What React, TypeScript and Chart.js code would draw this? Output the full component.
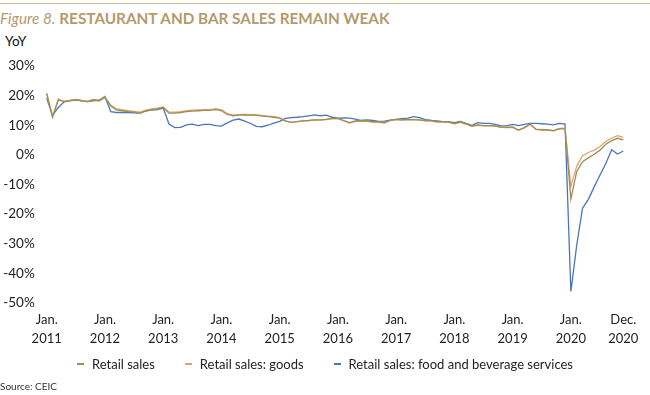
import React, { useEffect, useRef } from 'react';
import { Chart, registerables } from 'chart.js';

Chart.register(...registerables);

// Monthly observations (Mar–Dec each year; Jan/Feb not reported separately)
const years = [2011, 2012, 2013, 2014, 2015, 2016, 2017, 2018, 2019, 2020];
const months = ['Mar', 'Apr', 'May', 'Jun', 'Jul', 'Aug', 'Sep', 'Oct', 'Nov', 'Dec'];
const categories = years.flatMap((y) => months.map((m) => `${m} ${y}`));

const seriesNames = ['Retail sales', 'Retail sales: goods', 'Retail sales: food and beverage services'];
const seriesColors = ['#9d8d55', '#dba56c', '#4a76b8'];

const retailSales = [
  20.8, 12.7, 18.6, 18.0, 18.2, 18.6, 18.2, 18.0, 18.6, 18.2,
  19.4, 16.5, 15.2, 14.9, 14.6, 14.4, 14.1, 14.8, 15.2, 15.5,
  16.0, 14.1, 14.1, 14.3, 14.6, 14.8, 14.9, 15.0, 15.0, 15.3,
  14.9, 13.7, 13.2, 13.4, 13.5, 13.4, 13.3, 13.1, 12.9, 12.7,
  12.4, 11.4, 11.0, 11.2, 11.5, 11.6, 11.8, 11.8, 12.0, 12.3,
  12.3, 11.6, 10.9, 11.5, 11.6, 11.5, 11.2, 11.2, 10.9, 11.7,
  12.0, 11.8, 12.0, 11.9, 11.8, 11.6, 11.6, 11.2, 11.2, 11.1,
  10.6, 11.1, 10.5, 9.7, 10.1, 9.9, 9.9, 9.8, 9.4, 9.3,
  9.4, 8.4, 9.2, 10.4, 8.6, 8.4, 8.4, 8.1, 8.8, 8.8,
  -14.9, -5.6, -2.3, -1.0, 0.2, 1.6, 3.6, 4.8, 5.6, 5.1,
];

const retailGoods = [
  20.6, 12.9, 18.8, 18.1, 18.3, 18.7, 18.4, 18.1, 18.7, 18.4,
  19.5, 16.8, 15.5, 15.2, 14.9, 14.7, 14.4, 15.1, 15.5, 15.8,
  16.2, 14.4, 14.4, 14.6, 14.9, 15.1, 15.2, 15.3, 15.3, 15.6,
  15.2, 13.9, 13.4, 13.6, 13.7, 13.6, 13.5, 13.3, 13.1, 12.9,
  12.5, 11.5, 11.0, 11.2, 11.5, 11.6, 11.8, 11.7, 11.9, 12.2,
  12.2, 11.5, 10.7, 11.3, 11.4, 11.3, 11.0, 11.0, 10.7, 11.6,
  11.9, 11.7, 11.9, 11.8, 11.7, 11.5, 11.5, 11.1, 11.1, 11.0,
  10.5, 11.0, 10.4, 9.6, 10.0, 9.8, 9.8, 9.7, 9.3, 9.2,
  9.3, 8.3, 9.1, 10.3, 8.7, 8.6, 8.5, 8.2, 8.9, 9.0,
  -10.7, -3.8, -0.3, 0.8, 1.6, 2.8, 4.5, 5.7, 6.5, 5.9,
];

const foodBeverage = [
  19.1, 13.3, 16.0, 17.9, 18.4, 18.6, 18.2, 18.0, 18.2, 18.5,
  19.7, 14.6, 14.3, 14.3, 14.3, 14.2, 14.1, 14.9, 15.1, 15.3,
  15.8, 10.4, 9.2, 9.3, 10.1, 10.4, 9.9, 10.3, 10.3, 9.9,
  9.7, 10.8, 11.7, 12.1, 11.4, 10.6, 9.6, 9.5, 10.0, 10.7,
  11.3, 12.3, 12.6, 12.7, 12.9, 13.2, 13.5, 13.2, 13.4, 12.7,
  12.4, 12.5, 12.4, 12.1, 11.6, 11.8, 11.6, 11.3, 11.4, 11.7,
  12.0, 12.2, 12.4, 12.9, 12.6, 11.9, 11.6, 11.5, 11.2, 11.2,
  10.9, 11.3, 10.6, 10.0, 10.9, 10.6, 10.6, 10.3, 9.8, 9.8,
  10.3, 9.9, 10.3, 10.6, 10.6, 10.5, 10.4, 10.1, 10.6, 10.4,
  -46.1, -30.5, -18.0, -15.0, -10.8, -6.8, -2.9, 1.7, 0.3, 1.3,
];

const xTickCategories = [
  'Mar 2011', 'Mar 2012', 'Mar 2013', 'Mar 2014', 'Mar 2015', 'Mar 2016',
  'Mar 2017', 'Mar 2018', 'Mar 2019', 'Mar 2020', 'Dec 2020',
];
const xTickLabels = [
  ['Jan.', '2011'], ['Jan.', '2012'], ['Jan.', '2013'], ['Jan.', '2014'], ['Jan.', '2015'],
  ['Jan.', '2016'], ['Jan.', '2017'], ['Jan.', '2018'], ['Jan.', '2019'], ['Jan.', '2020'],
  ['Dec.', '2020'],
];

const yMin = -50;
const yMax = 30;
const yStep = 10;

const FONT = 'Lato, "Open Sans", sans-serif';
const TITLE_COLOR = '#b39a6b';

export default function App() {
  const canvasRef = useRef<HTMLCanvasElement | null>(null);

  useEffect(() => {
    document.body.style.margin = '0';
    const canvas = canvasRef.current;
    if (!canvas) return;
    const seriesData = [retailSales, retailGoods, foodBeverage];
    const chart = new Chart(canvas, {
      type: 'line',
      data: {
        labels: categories,
        datasets: seriesData.map((d, i) => ({
          label: seriesNames[i],
          data: d,
          borderColor: seriesColors[i],
          backgroundColor: seriesColors[i],
          borderWidth: 1.3,
          pointRadius: 0,
          tension: 0,
          fill: false,
        })),
      },
      options: {
        responsive: false,
        animation: false,
        events: [],
        layout: { padding: { top: 66, right: 26.7, bottom: 0, left: 0 } },
        plugins: {
          legend: { display: false },
          tooltip: { enabled: false },
          title: { display: false },
        },
        scales: {
          x: {
            type: 'category',
            grid: { display: false, drawTicks: false },
            border: { display: false },
            afterFit: (s: any) => { s.height = 92; },
            ticks: {
              autoSkip: false,
              maxRotation: 0,
              minRotation: 0,
              padding: 7.2,
              color: '#222',
              font: { family: FONT, size: 13, lineHeight: 1.45 },
              callback: function (this: any, value: any) {
                const cat = this.getLabelForValue(value);
                const k = xTickCategories.indexOf(cat);
                return k >= 0 ? xTickLabels[k] : '';
              },
            },
          },
          y: {
            min: yMin,
            max: yMax,
            grid: { display: false, drawTicks: false },
            border: { display: false },
            afterFit: (s: any) => { s.width = 46.7; },
            ticks: {
              stepSize: yStep,
              padding: 12,
              color: '#222',
              font: { family: FONT, size: 13.5 },
              callback: (v: any) => `${v}%`,
            },
          },
        },
      },
    });
    return () => chart.destroy();
  }, []);

  return (
    <div style={{ position: 'relative', width: 650, height: 395, overflow: 'hidden', background: '#fff', fontFamily: FONT }}>
      <div style={{ position: 'absolute', left: 0, right: 0, top: 3, height: 1, background: '#cdbb98' }} />
      <div style={{ position: 'absolute', left: 0, top: 8, fontSize: 15.3, color: TITLE_COLOR, whiteSpace: 'nowrap', lineHeight: '20px' }}>
        <span style={{ fontStyle: 'italic' }}>Figure 8.</span>{' '}
        <span style={{ fontWeight: 700 }}>RESTAURANT AND BAR SALES REMAIN WEAK</span>
      </div>
      <div style={{ position: 'absolute', left: 5, top: 33, fontSize: 13.5, color: '#111', lineHeight: '16px' }}>YoY</div>
      <canvas ref={canvasRef} width={650} height={395} style={{ position: 'absolute', left: 0, top: 0, width: 650, height: 395 }} />
      <div style={{ position: 'absolute', left: 0, top: 356, width: 650, display: 'flex', justifyContent: 'center', gap: 30, fontSize: 13, color: '#222', lineHeight: '16px' }}>
        {seriesNames.map((n, i) => (
          <div key={n} style={{ display: 'flex', alignItems: 'center' }}>
            <span style={{ display: 'inline-block', width: 7, height: 1.5, background: seriesColors[i], marginRight: 8 }} />
            <span>{n}</span>
          </div>
        ))}
      </div>
      <div style={{ position: 'absolute', left: 0, top: 380, fontSize: 10, color: '#333', lineHeight: '12px' }}>Source: CEIC</div>
    </div>
  );
}
